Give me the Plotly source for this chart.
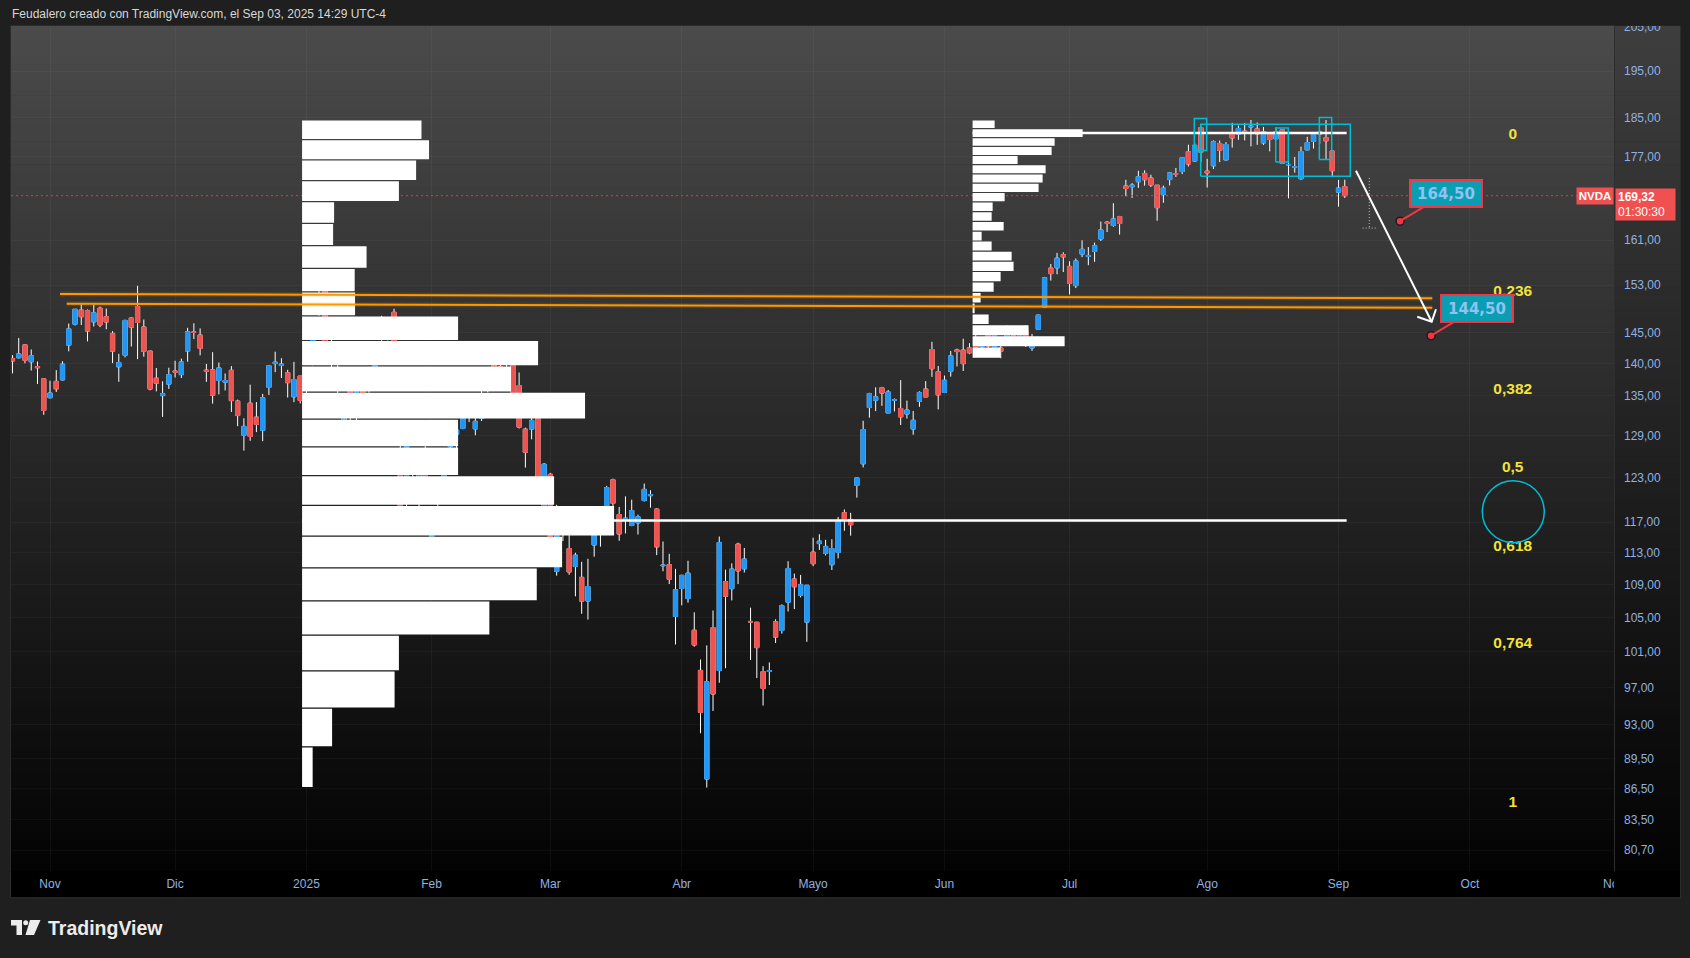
import math
import numpy as np
import pandas as pd
import plotly.graph_objects as go

# ------------------------------------------------------------------ data
HOLIDAYS = ["2024-11-28", "2024-12-25", "2025-01-01", "2025-01-09", "2025-01-20",
            "2025-02-17", "2025-04-18", "2025-05-26", "2025-06-19", "2025-07-04",
            "2025-09-01"]
dates = [d for d in pd.bdate_range("2024-10-24", "2025-09-03")
         if d.strftime("%Y-%m-%d") not in HOLIDAYS]

opens = [
    # Oct 24-31
    140.82, 140.93, 143.00, 140.29, 139.54, 137.60,
    # Nov
    134.70, 137.21, 137.45, 142.96, 146.39, 148.77, 148.68, 146.78, 149.07, 147.64,
    144.87, 139.50, 141.32, 147.41, 149.35, 145.93, 141.99, 137.70, 135.01, 136.78,
    # Dec
    138.83, 138.26, 142.00, 145.11, 144.60, 138.97, 139.01, 137.36, 137.08, 138.94,
    134.18, 129.09, 133.86, 131.76, 129.81, 136.28, 140.00, 139.70, 138.55, 134.83, 138.03,
    # Jan
    136.00, 140.01, 148.59, 153.03, 142.58, 137.45, 129.99, 136.05, 133.65, 138.64,
    136.69, 139.16, 144.66, 145.05, 148.37, 124.80, 121.81, 126.50, 123.10, 123.78,
    # Feb
    114.75, 116.96, 121.76, 127.42, 129.22, 130.09, 132.58, 130.02, 131.56, 136.48,
    141.27, 139.51, 140.03, 140.04, 136.56, 129.98, 129.99, 135.00, 118.02,
    # Mar
    123.51, 110.65, 117.58, 113.53, 111.25, 109.90, 106.99, 114.00, 117.03, 118.61,
    122.74, 118.00, 117.27, 116.55, 116.89, 119.88, 120.55, 118.73, 111.35, 111.49, 105.13,
    # Apr
    108.52, 107.29, 103.51, 98.91, 87.46, 103.81, 98.89, 109.37, 108.50, 114.11,
    110.97, 104.55, 104.45, 98.77, 98.78, 104.52, 103.48, 106.85, 109.69, 107.67, 104.47,
    # May
    113.08, 114.18, 112.91, 111.48, 113.05, 118.25, 117.35, 121.97, 124.98, 133.20,
    134.30, 136.22, 132.39, 134.29, 133.06, 132.23, 130.00, 134.15, 136.03, 142.25, 138.72,
    # Jun
    135.49, 138.78, 142.19, 142.17, 142.51, 143.19, 142.69, 144.61, 141.97, 142.48,
    143.35, 144.49, 144.01, 145.45, 142.50, 145.56, 149.27, 155.98, 156.04, 158.37,
    # Jul
    156.29, 152.92, 158.48, 158.05, 158.95, 161.22, 164.32, 163.72, 165.37, 171.19,
    171.06, 172.02, 173.64, 172.75, 171.34, 169.53, 172.44, 173.61, 174.02, 177.96,
    176.11, 182.90,
    # Aug
    174.09, 175.16, 179.62, 176.33, 181.57, 181.56, 182.16, 183.00, 182.62, 179.75,
    181.88, 180.60, 182.43, 175.33, 174.85, 172.61, 178.35, 180.06, 181.98, 180.82, 178.11,
    # Sep
    170.00, 171.06,
]
highs = [
    141.35, 144.13, 143.14, 142.26, 140.33, 137.61,
    137.31, 138.96, 140.37, 146.49, 148.93, 149.77, 148.85, 149.65, 149.33, 149.00,
    145.24, 141.55, 147.13, 147.56, 152.89, 147.16, 142.05, 139.30, 137.22, 139.35,
    140.45, 140.79, 145.79, 146.54, 145.70, 139.95, 141.82, 140.17, 138.44, 139.60,
    134.40, 131.59, 136.70, 134.03, 135.28, 139.79, 141.90, 140.85, 139.02, 140.27, 138.07,
    138.88, 144.90, 152.16, 153.13, 143.95, 139.92, 133.49, 136.38, 136.45, 138.75,
    138.50, 141.83, 147.79, 147.23, 148.97, 128.40, 129.00, 126.89, 125.00, 127.85,
    118.57, 121.20, 125.00, 128.77, 130.37, 135.00, 134.48, 132.24, 136.50, 139.25,
    143.44, 141.36, 140.67, 141.46, 138.59, 130.20, 133.73, 135.01, 125.09,
    123.70, 119.31, 118.28, 115.35, 113.00, 111.85, 112.23, 117.00, 117.76, 121.89,
    122.90, 119.02, 120.45, 120.00, 117.99, 122.22, 121.29, 118.84, 114.45, 112.87, 110.96,
    110.20, 111.98, 105.63, 100.13, 101.75, 105.85, 115.10, 110.86, 111.65, 114.29,
    113.62, 106.19, 104.47, 99.38, 99.81, 104.80, 106.59, 111.92, 110.37, 110.20, 108.92,
    114.94, 115.40, 114.67, 114.74, 117.68, 118.68, 118.23, 123.00, 131.22, 135.44,
    136.30, 136.35, 135.87, 134.58, 137.40, 134.25, 132.68, 135.66, 137.25, 143.49, 139.62,
    138.12, 142.00, 142.39, 144.00, 143.27, 145.00, 144.29, 144.99, 145.00, 143.58,
    146.18, 145.22, 145.65, 146.20, 144.78, 147.96, 154.45, 156.72, 158.70, 158.80,
    157.20, 157.70, 160.98, 159.75, 160.55, 164.42, 164.50, 167.89, 165.49, 172.40,
    171.75, 174.16, 174.25, 173.38, 171.39, 171.26, 173.83, 174.72, 176.80, 179.38,
    179.89, 183.30,
    176.54, 180.26, 180.25, 179.90, 183.88, 183.30, 183.85, 184.48, 183.95, 183.03,
    181.90, 182.94, 182.50, 176.01, 176.90, 178.98, 180.99, 182.00, 182.31, 184.47, 178.15,
    172.38, 172.41,
]
lows = [
    138.46, 140.80, 140.05, 138.90, 136.81, 132.11,
    134.57, 135.57, 137.33, 141.96, 146.17, 146.26, 143.57, 146.01, 145.90, 145.55,
    140.08, 137.15, 140.99, 142.73, 140.70, 141.10, 135.82, 135.67, 131.80, 136.05,
    137.82, 137.74, 140.29, 143.95, 141.31, 137.13, 133.79, 135.21, 135.80, 132.54,
    130.42, 126.86, 128.28, 129.55, 128.22, 135.12, 138.65, 137.73, 134.71, 134.02, 133.83,
    134.63, 139.73, 147.82, 140.01, 137.56, 134.22, 129.51, 130.05, 131.29, 133.49,
    135.46, 137.09, 143.67, 143.72, 141.88, 116.70, 116.25, 120.05, 118.10, 120.19,
    113.01, 116.70, 120.76, 125.21, 125.00, 129.96, 131.02, 129.08, 131.17, 135.50,
    137.93, 137.22, 137.78, 134.03, 130.08, 124.44, 128.49, 120.01, 116.40,
    112.28, 110.11, 114.51, 110.22, 107.56, 105.46, 104.77, 112.50, 113.79, 118.15,
    118.03, 114.54, 115.50, 116.45, 115.36, 119.76, 118.92, 112.70, 110.66, 109.07, 101.85,
    106.47, 106.79, 101.60, 92.11, 86.62, 94.46, 97.53, 99.15, 107.06, 109.07,
    110.50, 100.08, 98.05, 95.04, 97.28, 102.02, 103.11, 105.73, 106.02, 107.44, 102.16,
    111.30, 113.37, 112.66, 110.82, 112.28, 115.85, 115.21, 120.28, 124.47, 131.68,
    132.66, 133.46, 132.39, 132.62, 130.59, 131.55, 129.16, 133.31, 134.79, 137.91, 132.92,
    135.40, 137.95, 139.55, 138.83, 141.51, 141.94, 141.53, 141.87, 141.85, 140.85,
    143.20, 143.78, 143.12, 142.65, 142.03, 145.50, 149.26, 153.80, 154.90, 155.30,
    151.40, 152.50, 157.94, 156.50, 157.10, 160.86, 162.50, 163.47, 162.02, 169.20,
    168.90, 170.83, 171.26, 171.00, 164.58, 167.97, 171.30, 172.96, 173.50, 175.02,
    175.92, 175.93,
    170.89, 174.52, 175.90, 176.23, 178.80, 180.40, 180.25, 179.05, 179.35, 179.35,
    178.04, 180.59, 175.49, 168.80, 173.81, 172.35, 178.25, 178.60, 179.56, 176.41, 173.15,
    167.22, 168.89,
]
closes = [
    140.41, 141.54, 140.52, 141.25, 139.34, 132.76,
    135.40, 136.05, 139.91, 145.61, 148.88, 147.63, 145.26, 148.29, 146.27, 146.76,
    141.98, 140.15, 147.01, 145.89, 146.67, 141.95, 136.02, 136.92, 135.34, 138.25,
    138.63, 140.26, 145.14, 145.06, 142.44, 138.81, 135.07, 139.31, 137.34, 134.25,
    132.00, 130.39, 128.91, 130.68, 134.70, 139.67, 140.22, 139.93, 137.01, 137.49, 134.29,
    138.31, 144.47, 149.43, 140.14, 140.11, 135.91, 133.23, 131.76, 136.24, 133.57,
    137.71, 140.83, 147.07, 147.22, 142.62, 118.42, 128.99, 123.70, 124.65, 120.07,
    116.66, 118.65, 124.83, 128.68, 129.84, 133.57, 132.80, 131.14, 135.29, 138.85,
    139.40, 139.23, 140.11, 134.43, 130.28, 126.63, 131.28, 120.15, 124.92,
    114.06, 115.99, 117.30, 110.57, 112.69, 106.98, 108.76, 115.74, 115.58, 121.67,
    119.53, 115.43, 117.52, 118.53, 117.70, 121.41, 120.69, 113.76, 111.43, 109.67, 108.38,
    110.15, 110.42, 101.80, 94.31, 97.64, 96.30, 114.33, 107.57, 110.93, 110.71,
    112.20, 104.49, 101.49, 96.91, 98.89, 102.71, 106.43, 111.01, 108.73, 109.02, 108.92,
    111.61, 114.50, 113.82, 113.54, 117.06, 117.37, 116.65, 123.00, 129.93, 135.34,
    134.83, 135.40, 135.57, 134.38, 131.80, 132.83, 131.29, 135.50, 134.81, 139.19, 135.13,
    137.38, 141.22, 141.92, 139.99, 141.72, 142.63, 143.96, 142.83, 145.00, 141.97,
    144.69, 144.12, 145.48, 143.85, 144.17, 147.90, 154.31, 155.02, 157.75, 157.99,
    153.30, 157.25, 159.34, 158.24, 160.00, 162.88, 164.10, 164.92, 164.07, 170.70,
    171.37, 173.00, 172.41, 171.38, 167.03, 170.78, 173.74, 173.50, 176.75, 175.51,
    179.27, 177.87,
    173.72, 180.00, 178.26, 179.42, 180.77, 182.70, 182.06, 183.16, 181.59, 182.02,
    180.45, 182.01, 175.64, 175.40, 174.98, 177.99, 179.81, 181.77, 181.60, 180.17, 174.18,
    170.78, 169.32,
]

n = min(len(dates), len(opens), len(highs), len(lows), len(closes))
dates, opens, highs, lows, closes = dates[:n], opens[:n], highs[:n], lows[:n], closes[:n]

# bar index: 0 = first session of Nov 2024 (TradingView plots bars by index)
origin = [i for i, d in enumerate(dates) if d.strftime("%Y-%m-%d") == "2024-11-01"][0]
xs = [i - origin for i in range(n)]

last_price = closes[-1]
countdown = "01:30:30"

# month labels (Spanish), including the empty future sessions on the right
MONTHS_ES = {1: "2025", 2: "Feb", 3: "Mar", 4: "Abr", 5: "Mayo", 6: "Jun", 7: "Jul",
             8: "Ago", 9: "Sep", 10: "Oct", 11: "Nov", 12: "Dic"}
future = list(pd.bdate_range(dates[-1] + pd.Timedelta(days=1), "2025-11-30"))
all_days = list(dates) + future
tick_vals, tick_text = [], []
for i in range(1, len(all_days)):
    if all_days[i].month != all_days[i - 1].month:
        tick_vals.append(i - origin)
        tick_text.append(MONTHS_ES[all_days[i].month])

price_ticks = [80.70, 83.50, 86.50, 89.50, 93, 97, 101, 105, 109, 113, 117, 123, 129,
               135, 140, 145, 153, 161, 177, 185, 195, 205]
price_tick_text = [f"{v:.2f}".replace(".", ",") for v in price_ticks]

# fixed-range volume profiles (24 rows each, volume expressed in bar widths)
vp_left_low, vp_left_high, vp_left_start = 86.62, 184.48, 40.3
vp_left_vol = [1.69, 4.80, 14.79, 15.48, 29.94, 37.52, 41.57, 49.88, 40.29, 24.94,
               24.94, 45.24, 33.41, 37.73, 24.94, 8.47, 8.41, 10.31, 4.96, 5.12,
               15.48, 18.23, 20.30, 19.09]
vp_right_low, vp_right_high, vp_right_start = 140.85, 184.48, 147.5
vp_right_vol = [4.48, 14.71, 8.95, 2.56, 0.32, 1.28, 3.36, 4.48, 6.55, 6.24,
                3.04, 1.44, 4.96, 3.04, 3.20, 5.12, 10.55, 11.19, 11.67, 7.19,
                12.63, 13.11, 17.59, 3.52]
poc_end = 207.3

# drawings (bar index, price)
orange_lines = [((1.60, 151.48), (221.0, 150.74)), ((2.67, 149.83), (221.0, 149.15))]
cyan_boxes = [(183.96, 207.88, 173.1, 183.6), (182.94, 184.92, 178.2, 184.8),
              (195.96, 197.97, 175.9, 182.8), (202.93, 204.91, 176.4, 185.0)]
arrow_start, arrow_tip = (208.79, 174.17), (220.89, 146.80)
arrow_wings = [(218.59, 147.63), (221.58, 148.88)]
dotted_v = (210.92, 172.73, 163.22)
dotted_h = (209.86, 211.99, 163.22)
fib_labels = ["0", "0,236", "0,382", "0,5", "0,618", "0,764", "1"]
fib_label_prices = [181.35, 151.88, 135.90, 124.35, 113.72, 101.86, 85.12]
fib_label_x = 233.85
circle_pt = (233.94, 118.39)
callout_x = [215.83, 220.79]
callout_prices = [164.50, 144.50]

# ------------------------------------------------------------------ geometry
W, H = 1690, 958
PL, PR, PT, PB = 11, 1614, 26, 871           # plot area in pixels
X_MIN = (PL - 50.0) / 6.255
X_MAX = (PR - 50.0) / 6.255
LN_TOP = 5.273 + (71 - PT) / 883.0
LN_BOT = 5.273 - (PB - 71) / 883.0
Y_RANGE = [LN_BOT / math.log(10), LN_TOP / math.log(10)]


def px(x):
    return (x - PL) / (PR - PL)


def py(y):
    return (PB - y) / (PB - PT)


UP, DN = "#2196f3", "#ef5350"
AXIS_TXT = "#8fb2e2"
FONT = "Liberation Sans, Arial, sans-serif"

fig = go.Figure()

# current price line
fig.add_trace(go.Scatter(x=[X_MIN, X_MAX], y=[last_price, last_price], mode="lines",
                         line=dict(color="#f23645", width=1, dash="2px,3px"),
                         hoverinfo="skip", showlegend=False))

# candles: white wicks, then coloured bodies
fig.add_trace(go.Candlestick(
    x=xs, open=opens, high=highs, low=lows, close=closes,
    increasing=dict(line=dict(color="#ffffff", width=1), fillcolor="#ffffff"),
    decreasing=dict(line=dict(color="#ffffff", width=1), fillcolor="#ffffff"),
    whiskerwidth=0, hoverinfo="skip", showlegend=False))
body_hi = [max(o, c) for o, c in zip(opens, closes)]
body_lo = [min(o, c) for o, c in zip(opens, closes)]
fig.add_trace(go.Candlestick(
    x=xs, open=opens, high=body_hi, low=body_lo, close=closes,
    increasing=dict(line=dict(color=UP, width=1), fillcolor=UP),
    decreasing=dict(line=dict(color=DN, width=1), fillcolor=DN),
    whiskerwidth=0, hoverinfo="skip", showlegend=False))


def vp_trace(start, low, high, vols):
    step = (high - low) / len(vols)
    g = math.exp(0.6 / 883.0)
    X, Y = [], []
    for k, v in enumerate(vols):
        b = (low + k * step) * g
        t = (low + (k + 1) * step) / g
        X += [start, start + v, start + v, start, start, None]
        Y += [b, b, t, t, b, None]
    return go.Scatter(x=X, y=Y, mode="lines", fill="toself", fillcolor="#ffffff",
                      line=dict(width=0, color="#ffffff"), hoverinfo="skip",
                      showlegend=False)


def poc_trace(start, low, high, vols):
    step = (high - low) / len(vols)
    k = int(np.argmax(vols))
    p = low + (k + 0.5) * step
    return go.Scatter(x=[start, poc_end], y=[p, p], mode="lines",
                      line=dict(color="#ffffff", width=2.5), hoverinfo="skip",
                      showlegend=False)


fig.add_trace(vp_trace(vp_left_start, vp_left_low, vp_left_high, vp_left_vol))
fig.add_trace(vp_trace(vp_right_start, vp_right_low, vp_right_high, vp_right_vol))
fig.add_trace(poc_trace(vp_left_start, vp_left_low, vp_left_high, vp_left_vol))
fig.add_trace(poc_trace(vp_right_start, vp_right_low, vp_right_high, vp_right_vol))

# orange trend lines
for (a, b) in orange_lines:
    fig.add_trace(go.Scatter(x=[a[0], b[0]], y=[a[1], b[1]], mode="lines",
                             line=dict(color="rgba(255,152,0,0.13)", width=5),
                             hoverinfo="skip", showlegend=False))
    fig.add_trace(go.Scatter(x=[a[0], b[0]], y=[a[1], b[1]], mode="lines",
                             line=dict(color="#ff9800", width=2),
                             hoverinfo="skip", showlegend=False))

# cyan rectangles
bx, by = [], []
for (x0, x1, p0, p1) in cyan_boxes:
    bx += [x0, x1, x1, x0, x0, None]
    by += [p0, p0, p1, p1, p0, None]
fig.add_trace(go.Scatter(x=bx, y=by, mode="lines", line=dict(color="#00bcd4", width=1.5),
                         hoverinfo="skip", showlegend=False))

# projection arrow
ax_ = [arrow_start[0], arrow_tip[0], None, arrow_wings[0][0], arrow_tip[0], arrow_wings[1][0]]
ay_ = [arrow_start[1], arrow_tip[1], None, arrow_wings[0][1], arrow_tip[1], arrow_wings[1][1]]
fig.add_trace(go.Scatter(x=ax_, y=ay_, mode="lines", line=dict(color="#ffffff", width=2),
                         hoverinfo="skip", showlegend=False))
fig.add_trace(go.Scatter(x=[dotted_v[0], dotted_v[0], None, dotted_h[0], dotted_h[1]],
                         y=[dotted_v[1], dotted_v[2], None, dotted_h[2], dotted_h[2]],
                         mode="lines", line=dict(color="rgba(230,230,230,0.8)", width=1,
                                                 dash="1px,2px"),
                         hoverinfo="skip", showlegend=False))

# fib labels + circle
fig.add_trace(go.Scatter(x=[fib_label_x] * len(fib_labels), y=fib_label_prices,
                         mode="text", text=[f"<b>{t}</b>" for t in fib_labels],
                         textfont=dict(color="#f2e23c", size=15.5, family=FONT),
                         hoverinfo="skip", showlegend=False))
fig.add_trace(go.Scatter(x=[circle_pt[0]], y=[circle_pt[1]], mode="markers",
                         marker=dict(symbol="circle-open", size=62, color="#00bcd4",
                                     line=dict(width=1.5, color="#00bcd4")),
                         hoverinfo="skip", showlegend=False))

# callout anchor dots
fig.add_trace(go.Scatter(x=callout_x, y=callout_prices, mode="markers",
                         marker=dict(size=8, color="#f23645",
                                     line=dict(width=1.5, color="#1b1b1b")),
                         hoverinfo="skip", showlegend=False))

# ------------------------------------------------------------------ decoration shapes
shapes = []
NS = 110
for k in range(NS):
    y0 = PT + (PB - PT) * k / NS
    y1 = PT + (PB - PT) * (k + 1) / NS + 0.6
    f = (k + 0.5) / NS
    c = int(round(75 * (1 - f) + 3 * f))
    c2 = int(round(62 * (1 - f) + 3 * f))
    shapes.append(dict(type="rect", xref="paper", yref="paper", x0=px(PL), x1=px(PR),
                       y0=py(y1), y1=py(y0), line=dict(width=0),
                       fillcolor=f"rgb({c},{c},{c})", layer="below"))
    shapes.append(dict(type="rect", xref="paper", yref="paper", x0=px(PR + 1), x1=px(1680),
                       y0=py(y1), y1=py(y0), line=dict(width=0),
                       fillcolor=f"rgb({c2},{c2},{c2})", layer="below"))
# time axis strip
shapes.append(dict(type="rect", xref="paper", yref="paper", x0=px(PL), x1=px(1680),
                   y0=py(897), y1=py(PB), line=dict(width=0), fillcolor="#000000",
                   layer="below"))
# separators / borders
shapes.append(dict(type="line", xref="paper", yref="paper", x0=px(PR + 0.5), x1=px(PR + 0.5),
                   y0=py(897), y1=py(PT), line=dict(color="rgba(255,255,255,0.07)", width=1),
                   layer="above"))
shapes.append(dict(type="rect", xref="paper", yref="paper", x0=px(10.5), x1=px(1680.5),
                   y0=py(898), y1=py(PT - 0.5), line=dict(color="#2c2c2c", width=1),
                   layer="above"))
# clip labels that run past the panes (top tick / last month label)
shapes.append(dict(type="rect", xref="paper", yref="paper", x0=px(PR + 1), x1=px(1690),
                   y0=py(PT - 0.5), y1=py(0), line=dict(width=0), fillcolor="#1f1f1f",
                   layer="above"))
shapes.append(dict(type="rect", xref="paper", yref="paper", x0=px(PR), x1=px(1680),
                   y0=py(897), y1=py(PB + 0.5), line=dict(width=0), fillcolor="#000000",
                   layer="above"))
# TradingView logo mark
logo_poly = [(11, 920), (22, 920), (22, 935), (16.5, 935), (16.5, 925.5), (11, 925.5)]
path = "M " + " L ".join(f"{px(a):.5f},{py(b):.5f}" for a, b in logo_poly) + " Z"
shapes.append(dict(type="path", xref="paper", yref="paper", path=path,
                   fillcolor="#ececec", line=dict(width=0)))
slash = [(30, 920), (40.5, 920), (34, 935), (25.5, 935)]
path2 = "M " + " L ".join(f"{px(a):.5f},{py(b):.5f}" for a, b in slash) + " Z"
shapes.append(dict(type="path", xref="paper", yref="paper", path=path2,
                   fillcolor="#ececec", line=dict(width=0)))
shapes.append(dict(type="circle", xref="paper", yref="paper", x0=px(23.2), x1=px(28.2),
                   y0=py(925.2), y1=py(920.2), fillcolor="#ececec", line=dict(width=0)))

# ------------------------------------------------------------------ annotations
annotations = []
for cx, cp in zip(callout_x, callout_prices):
    annotations.append(dict(
        x=cx, y=math.log10(cp), xref="x", yref="y",
        text="<b>" + f"{cp:.2f}".replace(".", ",") + "</b>",
        showarrow=True, arrowhead=0, arrowwidth=2, arrowcolor="#f23645",
        ax=46, ay=-27.5, standoff=0,
        font=dict(color="#8ec3f2", size=15, family="DejaVu Sans, sans-serif"),
        bgcolor="#0b9db1", bordercolor="#f23645", borderwidth=2, borderpad=1,
        width=68, height=23))
annotations.append(dict(
    x=1.0, xref="paper", y=math.log10(last_price), yref="y", xanchor="right",
    yanchor="middle", text="<b>NVDA</b>", showarrow=False,
    font=dict(color="#ffffff", size=11.5, family=FONT),
    bgcolor="#f05050", borderpad=1, width=34, height=14))
annotations.append(dict(
    x=px(PR + 1), xref="paper", y=math.log10(last_price), yref="y", xanchor="left",
    yanchor="top", yshift=8, align="left",
    text=f"<b>{last_price:.2f}".replace(".", ",") + f"</b><br>{countdown}",
    showarrow=False, font=dict(color="#ffffff", size=12, family=FONT),
    bgcolor="#f05050", borderpad=2, width=55, height=27))
annotations.append(dict(
    x=px(10), xref="paper", y=py(14), yref="paper", xanchor="left", yanchor="middle",
    text="Feudalero creado con TradingView.com, el Sep 03, 2025 14:29 UTC-4",
    showarrow=False, font=dict(color="#d8d8d8", size=12, family=FONT)))
annotations.append(dict(
    x=px(46), xref="paper", y=py(928), yref="paper", xanchor="left", yanchor="middle",
    text="<b>TradingView</b>", showarrow=False,
    font=dict(color="#ececec", size=19.5, family=FONT)))

# ------------------------------------------------------------------ layout
fig.update_layout(
    width=W, height=H, autosize=False,
    margin=dict(l=PL, r=W - PR, t=PT, b=H - PB, pad=0),
    paper_bgcolor="#1f1f1f", plot_bgcolor="rgba(0,0,0,0)",
    showlegend=False, hovermode=False,
    boxgap=0.33, boxgroupgap=0,
    shapes=shapes, annotations=annotations,
    font=dict(family=FONT, color=AXIS_TXT, size=12),
    xaxis=dict(range=[X_MIN, X_MAX], tickvals=tick_vals, ticktext=tick_text,
               showgrid=True, gridcolor="rgba(255,255,255,0.045)", gridwidth=1,
               zeroline=False, showline=False, ticks="",
               tickfont=dict(color=AXIS_TXT, size=12, family=FONT),
               ticklabelstandoff=4, rangeslider=dict(visible=False), fixedrange=True),
    yaxis=dict(type="log", range=Y_RANGE, side="right", tickvals=price_ticks,
               ticktext=price_tick_text, showgrid=True,
               gridcolor="rgba(255,255,255,0.035)", zeroline=False, showline=False,
               ticks="", tickfont=dict(color=AXIS_TXT, size=12, family=FONT),
               ticklabelstandoff=9, fixedrange=True),
)

fig.write_html("out.html", config={"displayModeBar": False},
               post_script="document.body.style.margin='0';document.body.style.overflow='hidden';")
